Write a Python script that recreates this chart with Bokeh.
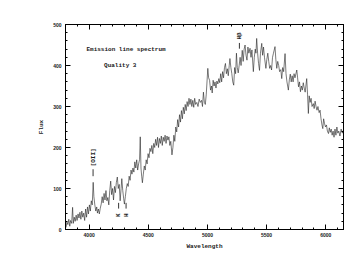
import numpy as np
from bokeh.plotting import figure
from bokeh.models import (Range1d, LinearAxis, SingleIntervalTicker, Label, ColumnDataSource,
                          CustomLabelingPolicy)
from bokeh.core.properties import value
from bokeh.embed import file_html
from bokeh.resources import INLINE

# ---- data ----
wavelength = [
    3805, 3812, 3820, 3828, 3836, 3843, 3852, 3860, 3866, 3874, 3882, 3890, 3898, 3906, 3914, 3922,
    3930, 3938, 3946, 3954, 3962, 3970, 3978, 3986, 3994, 4002, 4010, 4018, 4026, 4034, 4040, 4048,
    4056, 4064, 4070, 4078, 4086, 4094, 4102, 4110, 4118, 4126, 4134, 4142, 4150, 4158, 4166, 4174,
    4182, 4190, 4198, 4206, 4214, 4222, 4230, 4238, 4246, 4254, 4262, 4270, 4276, 4284, 4292, 4298,
    4306, 4314, 4322, 4330, 4338, 4346, 4354, 4362, 4370, 4378, 4386, 4394, 4402, 4410, 4418, 4426,
    4432, 4438, 4444, 4450, 4458, 4466, 4474, 4482, 4490, 4498, 4506, 4514, 4522, 4530, 4538, 4546,
    4554, 4562, 4570, 4578, 4586, 4594, 4602, 4610, 4618, 4626, 4634, 4642, 4650, 4658, 4666, 4674,
    4682, 4690, 4700, 4708, 4716, 4724, 4732, 4740, 4748, 4756, 4764, 4772, 4780, 4788, 4796, 4804,
    4812, 4820, 4828, 4836, 4844, 4852, 4860, 4868, 4876, 4884, 4892, 4900, 4910, 4920, 4930, 4940,
    4950, 4958, 4966, 4974, 4982, 4990, 5003, 5010, 5018, 5026, 5034, 5040, 5048, 5056, 5064, 5072,
    5080, 5088, 5096, 5104, 5112, 5120, 5128, 5136, 5144, 5152, 5160, 5168, 5176, 5184, 5190, 5198,
    5206, 5214, 5222, 5230, 5238, 5245, 5252, 5260, 5268, 5276, 5284, 5294, 5302, 5310, 5318, 5326,
    5334, 5342, 5350, 5360, 5368, 5376, 5388, 5396, 5404, 5410, 5416, 5424, 5432, 5440, 5448, 5459,
    5466, 5474, 5482, 5494, 5502, 5510, 5518, 5526, 5534, 5542, 5550, 5558, 5571, 5578, 5586, 5594,
    5602, 5610, 5620, 5628, 5636, 5644, 5656, 5664, 5672, 5684, 5692, 5700, 5708, 5716, 5724, 5732,
    5740, 5755, 5762, 5770, 5778, 5786, 5794, 5802, 5810, 5818, 5826, 5839, 5846, 5853, 5860, 5868,
    5876, 5884, 5895, 5902, 5910, 5918, 5926, 5934, 5944, 5952, 5960, 5968, 5975, 5982, 5990, 5998,
    6006, 6014, 6023, 6030, 6038, 6046, 6054, 6062, 6070, 6078, 6086, 6094, 6102, 6110, 6120, 6130,
    6140, 6148,
]
flux = [
    5, 18, 12, 25, 8, 22, 15, 54, 15, 30, 20, 35, 22, 38, 28, 42,
    25, 45, 30, 40, 22, 50, 30, 55, 38, 60, 45, 70, 60, 115, 80, 60,
    45, 55, 40, 50, 38, 52, 62, 80, 65, 88, 72, 95, 70, 78, 60, 95,
    118, 85, 100, 72, 105, 90, 115, 128, 100, 110, 70, 100, 124, 95, 75, 62,
    80, 100, 112, 105, 130, 120, 145, 135, 150, 140, 165, 150, 170, 145, 160, 170,
    226, 150, 130, 114, 135, 155, 145, 170, 160, 185, 175, 198, 190, 205, 185, 210,
    200, 220, 205, 225, 200, 222, 210, 228, 205, 225, 215, 230, 210, 228, 218, 226,
    205, 215, 182, 200, 230, 215, 250, 238, 268, 250, 280, 262, 290, 270, 298, 282,
    305, 290, 312, 300, 320, 305, 318, 300, 315, 298, 320, 305, 310, 300, 318, 310,
    315, 300, 335, 310, 305, 330, 393, 370, 364, 340, 350, 333, 364, 350, 360, 345,
    362, 355, 368, 358, 380, 360, 385, 370, 395, 405, 380, 392, 375, 400, 417, 395,
    380, 360, 352, 395, 380, 430, 395, 382, 400, 420, 400, 437, 410, 440, 450, 425,
    413, 445, 430, 442, 420, 438, 385, 420, 440, 430, 466, 430, 405, 388, 430, 454,
    425, 445, 420, 393, 415, 430, 410, 393, 400, 389, 420, 430, 446, 415, 393, 410,
    400, 385, 390, 368, 395, 385, 429, 380, 360, 340, 365, 379, 360, 375, 360, 380,
    370, 389, 370, 348, 360, 336, 350, 340, 358, 345, 335, 368, 330, 283, 326, 310,
    320, 300, 307, 295, 313, 300, 291, 300, 285, 291, 270, 255, 246, 270, 258, 250,
    255, 240, 234, 248, 237, 245, 230, 240, 225, 245, 230, 250, 235, 240, 228, 245,
    235, 242,
]

line_names = ["[OII]", "K", "H", "H\u03b2"]
line_wl = [4033, 4249, 4312, 5270]

x_ticks_major = 500
y_ticks_major = 100

title_text = "Emission line spectrum"
quality_text = "Quality 3"

# ---- figure ----
LBL = "Liberation Mono"
TCK = "Liberation Sans"
INK = "#1a1a1a"

p = figure(width=354, height=274, output_backend="svg", toolbar_location=None,
           x_range=Range1d(3800, 6150), y_range=Range1d(0, 500),
           min_border_left=65, min_border_right=11, min_border_top=24, min_border_bottom=45,
           x_axis_label="Wavelength", y_axis_label="Flux")
p.xgrid.visible = False
p.ygrid.visible = False
p.outline_line_color = "black"
p.outline_line_width = 1
p.background_fill_color = "white"
p.border_fill_color = "white"

p.xaxis.ticker = SingleIntervalTicker(interval=x_ticks_major, num_minor_ticks=5)
p.yaxis.ticker = SingleIntervalTicker(interval=y_ticks_major, num_minor_ticks=5)

for ax in p.xaxis + p.yaxis:
    ax.major_tick_in = 5
    ax.major_tick_out = 0
    ax.minor_tick_in = 2
    ax.minor_tick_out = 0
    ax.axis_line_color = "black"
    ax.major_label_text_font = TCK
    ax.major_label_text_font_style = "bold"
    ax.major_label_text_font_size = "5px"
    ax.major_label_text_color = INK
    ax.axis_label_text_font = LBL
    ax.axis_label_text_font_style = "bold"
    ax.axis_label_text_font_size = "6px"
    ax.axis_label_text_color = INK

p.xaxis.major_label_standoff = 3
p.xaxis.axis_label_standoff = 3
p.yaxis.major_label_standoff = 4
p.yaxis.axis_label_standoff = 5

# mirrored axes (ticks only, no labels)
no_labels = CustomLabelingPolicy(code="return new Set()")
top = LinearAxis(ticker=SingleIntervalTicker(interval=x_ticks_major, num_minor_ticks=5))
right = LinearAxis(ticker=SingleIntervalTicker(interval=y_ticks_major, num_minor_ticks=5))
for ax in (top, right):
    ax.major_tick_in = 5
    ax.major_tick_out = 0
    ax.minor_tick_in = 2
    ax.minor_tick_out = 0
    ax.major_label_policy = no_labels
    ax.major_label_standoff = 0
    ax.major_label_text_font_size = "5px"
    ax.axis_label = None
    ax.axis_line_color = "black"
p.add_layout(top, "above")
p.add_layout(right, "right")

# spectrum
p.line(wavelength, flux, line_color="#222222", line_width=0.6)

# line identification marks
oii = ColumnDataSource(dict(x=[line_wl[0]], t=[line_names[0]]))
kh = ColumnDataSource(dict(x=line_wl[1:3], t=line_names[1:3]))
hb = ColumnDataSource(dict(x=[line_wl[3]], t=[line_names[3]]))

p.segment(x0=[line_wl[0]], y0=[130], x1=[line_wl[0]], y1=[147], line_color="black", line_width=0.8)
p.segment(x0=line_wl[1:3], y0=[51, 51], x1=line_wl[1:3], y1=[65, 65], line_color="black", line_width=0.8)
p.segment(x0=[line_wl[3]], y0=[441], x1=[line_wl[3]], y1=[455], line_color="black", line_width=0.8)

for src, yv in ((oii, 176), (kh, 35), (hb, 472)):
    p.text(x="x", y=yv, text="t", source=src, angle=np.pi / 2,
           text_align="center", text_baseline="middle",
           text_font=value(LBL), text_font_style="bold", text_font_size="6px",
           text_color=INK)

p.add_layout(Label(x=3977, y=439, text=title_text, text_font=LBL, text_font_style="bold",
                   text_font_size="6px", text_baseline="middle", text_color=INK))
p.add_layout(Label(x=4263, y=399, text=quality_text, text_font=LBL, text_font_style="bold",
                   text_font_size="6px", text_align="center", text_baseline="middle",
                   text_color=INK))

open("out.html", "w").write(file_html(p, INLINE))
